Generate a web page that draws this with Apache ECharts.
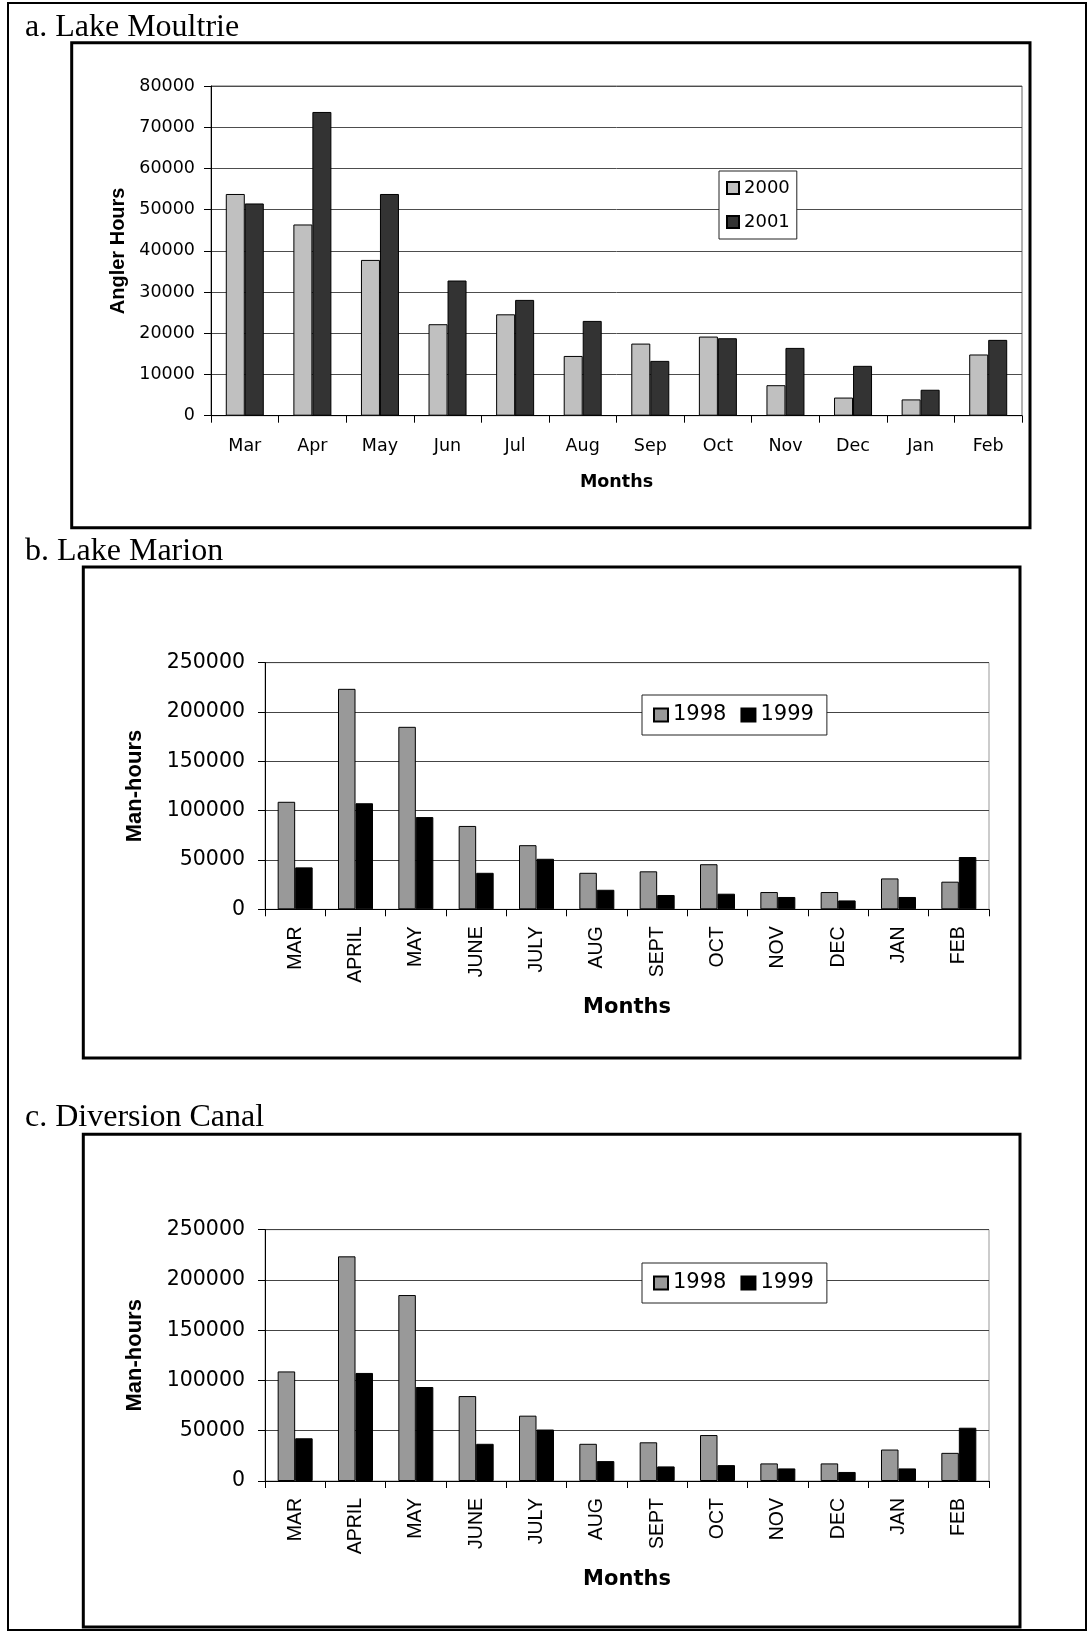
<!DOCTYPE html>
<html>
<head>
<meta charset="utf-8">
<script src="https://cdn.jsdelivr.net/npm/echarts@6/dist/echarts.min.js"></script>
<style>
  html, body { margin: 0; padding: 0; background: #fff; }
  #fig { width: 1091px; height: 1633px; }
</style>
</head>
<body>
<div id="fig"></div>
<script>
// ---- a. Lake Moultrie: angler hours by month ----
const moultrieMonths = ['Mar', 'Apr', 'May', 'Jun', 'Jul', 'Aug', 'Sep', 'Oct', 'Nov', 'Dec', 'Jan', 'Feb'];
const moultrie2000 = [53800, 46400, 37800, 22200, 24600, 14500, 17500, 19200, 7400, 4400, 3950, 14850];
const moultrie2001 = [51500, 73700, 53800, 32800, 28100, 23000, 13300, 18800, 16450, 12100, 6300, 18400];
const moultrieAxis = { min: 0, max: 80000, interval: 10000 };

// ---- b. Lake Marion: man-hours by month ----
const marionMonths = ['MAR', 'APRIL', 'MAY', 'JUNE', 'JULY', 'AUG', 'SEPT', 'OCT', 'NOV', 'DEC', 'JAN', 'FEB'];
const marion1998 = [109000, 223500, 185000, 84500, 65000, 37000, 38500, 45700, 17500, 17500, 31300, 28000];
const marion1999 = [42500, 107500, 93500, 37000, 51200, 19800, 14500, 15800, 12500, 9000, 12500, 53000];

// ---- c. Diversion Canal: man-hours by month ----
const canalMonths = ['MAR', 'APRIL', 'MAY', 'JUNE', 'JULY', 'AUG', 'SEPT', 'OCT', 'NOV', 'DEC', 'JAN', 'FEB'];
const canal1998 = [109000, 223500, 185000, 84500, 65000, 37000, 38500, 45700, 17500, 17500, 31300, 28000];
const canal1999 = [42500, 107500, 93500, 37000, 51200, 19800, 14500, 15800, 12500, 9000, 12500, 53000];
const manHoursAxis = { min: 0, max: 250000, interval: 50000 };

const SANS = 'DejaVu Sans';
const ARIAL = 'Liberation Sans';
const SERIF = 'Liberation Serif';

function catAxis(gridIndex, data, fontSize, margin, rotate, nameGap, nameSize, labelFont) {
  return {
    type: 'category', gridIndex: gridIndex, data: data,
    axisLine: { show: true, lineStyle: { color: '#000', width: 1 } },
    axisTick: { show: true, length: 7, lineStyle: { color: '#000' } },
    axisLabel: { color: '#000', fontFamily: labelFont, fontSize: fontSize, margin: margin, rotate: rotate, interval: 0 },
    splitLine: { show: false },
    name: 'Months', nameLocation: 'middle', nameGap: nameGap, nameMoveOverlap: false,
    nameTextStyle: { color: '#000', fontFamily: SANS, fontWeight: 'bold', fontSize: nameSize }
  };
}

function valAxis(gridIndex, range, fontSize, margin, name, nameGap, nameSize, gridColor) {
  return {
    type: 'value', gridIndex: gridIndex, min: range.min, max: range.max, interval: range.interval,
    axisLine: { show: true, lineStyle: { color: '#000', width: 1 } },
    axisTick: { show: true, length: 7, lineStyle: { color: '#000' } },
    axisLabel: { color: '#000', fontFamily: SANS, fontSize: fontSize, margin: margin,
                 formatter: function (v) { return String(v); } },
    splitLine: { show: true, lineStyle: { color: gridColor, width: 1 } },
    name: name, nameLocation: 'middle', nameGap: nameGap, nameRotate: 90, nameMoveOverlap: false,
    nameTextStyle: { color: '#000', fontFamily: ARIAL, fontWeight: 'bold', fontSize: nameSize }
  };
}

function barSeries(name, axisIndex, data, color, width) {
  return {
    type: 'bar', name: name, xAxisIndex: axisIndex, yAxisIndex: axisIndex, data: data,
    barWidth: width, barGap: '0%',
    itemStyle: { color: color, borderColor: '#000', borderWidth: 1 },
    emphasis: { disabled: true }
  };
}

function legendBox(names, left, top, orient, fontSize, itemW, itemH, gap, padding) {
  return {
    data: names, orient: orient, left: left, top: top,
    icon: 'rect', itemWidth: itemW, itemHeight: itemH, itemGap: gap,
    padding: padding, borderColor: '#222', borderWidth: 1, backgroundColor: '#fff',
    selectedMode: false,
    textStyle: { color: '#000', fontFamily: SANS, fontSize: fontSize }
  };
}

function panelTitle(text, y) {
  return {
    type: 'text', x: 25, y: y, z: 10,
    style: { text: text, font: '32px "' + SERIF + '"', fill: '#000', align: 'left', verticalAlign: 'middle' }
  };
}

function frame(x, y, w, h, lw) {
  return {
    type: 'rect', z: 10, shape: { x: x, y: y, width: w, height: h },
    style: { fill: null, stroke: '#000', lineWidth: lw }
  };
}

const chart = echarts.init(document.getElementById('fig'), null, { renderer: 'canvas' });
chart.setOption({
  animation: false,
  backgroundColor: '#fff',
  grid: [
    { left: 211, top: 86, width: 811, height: 329.7, show: true, borderColor: '#666', borderWidth: 1, containLabel: false },
    { left: 265, top: 662.7, width: 724, height: 246.6, show: true, borderColor: '#999', borderWidth: 1, containLabel: false },
    { left: 265, top: 1229.7, width: 724, height: 251.3, show: true, borderColor: '#999', borderWidth: 1, containLabel: false }
  ],
  xAxis: [
    catAxis(0, moultrieMonths, 17.5, 22, 0, 58, 17.5, SANS),
    catAxis(1, marionMonths, 19.5, 17, 90, 88, 21, ARIAL),
    catAxis(2, canalMonths, 19.5, 17, 90, 88, 21, ARIAL)
  ],
  yAxis: [
    valAxis(0, moultrieAxis, 17.5, 16, 'Angler Hours', 83, 20, '#4d4d4d'),
    valAxis(1, manHoursAxis, 20.5, 20, 'Man-hours', 119, 22, '#444'),
    valAxis(2, manHoursAxis, 20.5, 20, 'Man-hours', 119, 22, '#444')
  ],
  legend: [
    legendBox(['2000', '2001'], 719, 171, 'vertical', 18, 12, 12, 16, [8, 7, 8, 7]),
    legendBox(['1998', '1999'], 642, 695, 'horizontal', 21, 14, 13, 14, [9.5, 13, 9.5, 11]),
    legendBox(['1998', '1999'], 642, 1263, 'horizontal', 21, 14, 13, 14, [9.5, 13, 9.5, 11])
  ],
  series: [
    barSeries('2000', 0, moultrie2000, '#C0C0C0', 19),
    barSeries('2001', 0, moultrie2001, '#333333', 19),
    barSeries('1998', 1, marion1998, '#999999', 17.5),
    barSeries('1999', 1, marion1999, '#000000', 17.5),
    barSeries('1998', 2, canal1998, '#999999', 17.5),
    barSeries('1999', 2, canal1999, '#000000', 17.5)
  ],
  graphic: [
    frame(8, 3, 1078, 1627, 2),
    frame(71.7, 42.7, 958.3, 485, 3),
    frame(83.3, 567, 936.7, 491, 3),
    frame(83.3, 1134.3, 936.7, 492.7, 3),
    panelTitle('a. Lake Moultrie', 28),
    panelTitle('b. Lake Marion', 552),
    panelTitle('c. Diversion Canal', 1118)
  ]
});
</script>
</body>
</html>
